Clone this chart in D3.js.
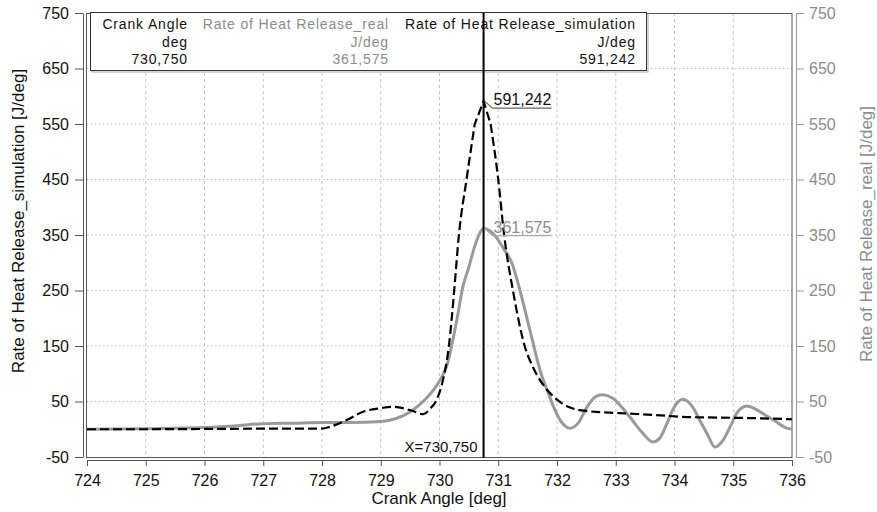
<!DOCTYPE html>
<html><head><meta charset="utf-8">
<script src="https://cdn.jsdelivr.net/npm/d3@7"></script>
<style>
body{margin:0;background:#fff}
svg{display:block}
text{font-family:"Liberation Sans",Arial,Helvetica,sans-serif}
</style>
</head><body>
<svg id="chart" width="877" height="512"></svg>
<script>
// ---- data ----
const crankAngleReal = [724,725,726,726.5,727,727.5,728,728.5,729,729.25,729.5,729.75,730,730.12,730.3,730.4,730.5,730.6,730.68,730.75,730.85,730.95,731.1,731.23,731.37,731.54,731.71,731.85,732.05,732.22,732.36,732.51,732.65,732.77,732.95,733.1,733.24,733.46,733.63,733.75,733.87,733.97,734.14,734.31,734.45,734.55,734.69,734.83,734.95,735.06,735.23,735.4,735.55,735.68,735.91,736];
const rohrReal = [0,1,3,6,10,11,12,12,14,19,31,53,87,113,200,258,292,330,352,361.575,358,348,324,300,250,178,107,65,17,2,11,40,58,62,56,40,22,-7,-23,-16,10,35,54,40,12,-7,-32,-19,5,29,42,35,25,17,2,0];
const crankAngleSim = [724,725,726,727,728,728.14,728.42,728.7,729,729.21,729.53,729.72,729.85,729.95,730.06,730.16,730.25,730.33,730.46,730.6,730.75,730.87,731,731.1,731.25,731.45,731.6,731.8,731.95,732.2,732.5,733.07,733.63,734.21,734.77,735.34,736];
const rohrSim = [0,0,0.5,1,1,4.6,16.7,31.6,38,40.6,33.4,27,38,53,89,150,250,350,450,550,591.242,550,450,350,250,150,110,75,58,40,33,29,26,22,21,20,18];
const xTickValues = [724,725,726,727,728,729,730,731,732,733,734,735,736];
const yTickValues = [-50,50,150,250,350,450,550,650,750];
const xGridValues = [725,726,727,728,729,730,731,732,733,734,735];
const yGridValues = [50,150,250,350,450,550,650];
const cursorAngle = 730.75;
const cursorReal = 361.575;
const cursorSim = 591.242;
const tableHeaders = ["Crank Angle","Rate of Heat Release_real","Rate of Heat Release_simulation"];
const tableUnits = ["deg","J/deg","J/deg"];
const tableValues = ["730,750","361,575","591,242"];

// ---- layout ----
const svg = d3.select("#chart");
const L = 87, R = 792, T = 13, B = 457;
const x = d3.scaleLinear().domain([724,736]).range([L,R]);
const y = d3.scaleLinear().domain([-50,750]).range([B,T]);
const GRAY = "#9a9a9a";
const fmt = v => v.toFixed(3).replace(".", ",");
const intFmt = d => String(d);

// grid
svg.append("g").selectAll("line").data(xGridValues).join("line")
  .attr("x1", d=>x(d)).attr("x2", d=>x(d)).attr("y1", T).attr("y2", B)
  .attr("stroke", "#c4c4c4").attr("stroke-dasharray", "3,3");
svg.append("g").selectAll("line").data(yGridValues).join("line")
  .attr("x1", L).attr("x2", R).attr("y1", d=>y(d)).attr("y2", d=>y(d))
  .attr("stroke", "#bdbdbd").attr("stroke-dasharray", "1.5,2.5");

// frame
svg.append("rect").attr("x", 86.5).attr("y", T+0.5).attr("width", R-86.5).attr("height", B-T)
  .attr("fill", "none").attr("stroke", "#555");

// axes
const yl = svg.append("g").attr("transform", "translate(83,0)")
  .call(d3.axisLeft(y).tickValues(yTickValues).tickSize(8).tickSizeOuter(0).tickPadding(6).tickFormat(intFmt));
yl.selectAll("text").attr("font-size", 16).attr("fill", "#111").style("font-family", "Liberation Sans, Arial");
yl.selectAll("line,path").attr("stroke", "#555");

const yr = svg.append("g").attr("transform", "translate(796,0)")
  .call(d3.axisRight(y).tickValues(yTickValues).tickSize(8).tickSizeOuter(0).tickPadding(5).tickFormat(intFmt));
yr.selectAll("text").attr("font-size", 16).attr("fill", "#8c8c8c").style("font-family", "Liberation Sans, Arial");
yr.selectAll("line,path").attr("stroke", "#999");

const xb = svg.append("g").attr("transform", "translate(0,460)")
  .call(d3.axisBottom(x).tickValues(xTickValues).tickSize(6).tickSizeOuter(0).tickPadding(9).tickFormat(intFmt));
xb.selectAll("text").attr("font-size", 16).attr("fill", "#111").style("font-family", "Liberation Sans, Arial");
xb.selectAll("line,path").attr("stroke", "#555");

// axis titles
svg.append("text").attr("x", 439).attr("y", 504).attr("text-anchor", "middle")
  .attr("font-size", 17).attr("fill", "#111").text("Crank Angle [deg]");
svg.append("text").attr("transform", "translate(24,221) rotate(-90)").attr("text-anchor", "middle")
  .attr("font-size", 17).attr("fill", "#111").text("Rate of Heat Release_simulation [J/deg]");
svg.append("text").attr("transform", "translate(872,234) rotate(-90)").attr("text-anchor", "middle")
  .attr("font-size", 17).attr("fill", "#8c8c8c").text("Rate of Heat Release_real [J/deg]");

// clip
svg.append("clipPath").attr("id", "plotclip").append("rect")
  .attr("x", L).attr("y", T).attr("width", R-L).attr("height", B-T);

// curves
const smooth = d3.line().x(d=>x(d[0])).y(d=>y(d[1])).curve(d3.curveMonotoneX);
const straight = d3.line().x(d=>x(d[0])).y(d=>y(d[1]));
const plot = svg.append("g").attr("clip-path", "url(#plotclip)");
plot.append("path").datum(d3.zip(crankAngleReal, rohrReal)).attr("d", smooth)
  .attr("fill", "none").attr("stroke", GRAY).attr("stroke-width", 3).attr("stroke-linejoin", "round");

// simulation: smooth flanks, straight segments into the sharp peak
const simPts = d3.zip(crankAngleSim, rohrSim);
const pk = d3.maxIndex(rohrSim);
const dSim = smooth(simPts.slice(0, pk)) +
  straight(simPts.slice(pk-1, pk+2)).replace(/^M/, "L") +
  smooth(simPts.slice(pk+1)).replace(/^M/, "L");
plot.append("path").attr("d", dSim)
  .attr("fill", "none").attr("stroke", "#000").attr("stroke-width", 2.2).attr("stroke-dasharray", "9,4");

// legend table
svg.append("rect").attr("x", 92).attr("y", 14).attr("width", 556).attr("height", 58)
  .attr("fill", "none").attr("stroke", "#aaa");
svg.append("rect").attr("x", 90.5).attr("y", 12.5).attr("width", 556).attr("height", 58)
  .attr("fill", "#fff").attr("stroke", "#333");
const colRight = [188, 389, 636];
const colColor = ["#111", "#8c8c8c", "#111"];
const rows = [tableHeaders, tableUnits, tableValues];
const rowBase = [29, 46.5, 64];
rows.forEach((row, ri) => {
  svg.append("g").selectAll("text").data(row).join("text")
    .attr("x", (d,i)=>colRight[i]).attr("y", rowBase[ri]).attr("text-anchor", "end")
    .attr("font-size", 14).attr("letter-spacing", "0.85px")
    .attr("fill", (d,i)=>colColor[i]).text(d=>d);
});

// cursor
const cx = x(cursorAngle);
svg.append("line").attr("x1", cx).attr("x2", cx).attr("y1", T).attr("y2", B+1)
  .attr("stroke", "#000").attr("stroke-width", 2);
svg.append("text").attr("x", cx-6).attr("y", 452).attr("text-anchor", "end")
  .attr("font-size", 15).attr("fill", "#111").text("X=" + fmt(cursorAngle));

// point annotations
function annot(val, color, lineColor) {
  const py = y(val);
  const g = svg.append("g");
  g.append("polyline")
    .attr("points", `${cx+1},${py} ${cx+9},${py+7} ${cx+68},${py+7}`)
    .attr("fill", "none").attr("stroke", lineColor).attr("stroke-width", 1.2);
  g.append("text").attr("x", cx+10).attr("y", py+4).attr("font-size", 16)
    .attr("fill", color).text(fmt(val));
}
annot(cursorSim, "#111", "#666");
annot(cursorReal, "#8c8c8c", "#aaa");
</script>
</body></html>
